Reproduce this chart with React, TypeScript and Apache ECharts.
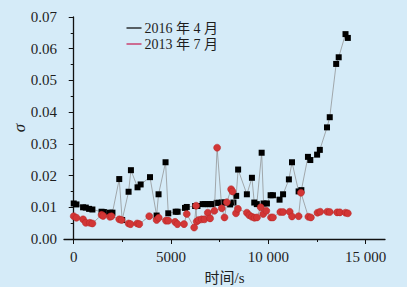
import React, { useEffect, useRef } from "react";
import * as echarts from "echarts";

const xTicks = [0, 5000, 10000, 15000];
const xMinorTicks = [2500, 7500, 12500];

const series2016Name = "2016 年 4 月";
const series2013Name = "2013 年 7 月";

const x2016 = [0, 140, 480, 620, 790, 960, 1430, 1550, 1860, 1990, 2340, 2490, 2820, 2940, 3280, 3440, 3920, 4260, 4360, 4720, 4860, 5240, 5340, 5720, 5810, 6240, 6360, 6630, 6750, 6890, 7010, 7130, 7350, 7470, 7610, 7730, 8040, 8210, 8350, 8450, 8900, 9160, 9280, 9410, 9660, 9760, 9930, 10120, 10240, 10580, 10760, 11060, 11220, 11560, 11700, 12040, 12160, 12510, 12650, 13020, 13160, 13490, 13620, 13970, 14090];
const y2016 = [0.0112, 0.0109, 0.0100, 0.0099, 0.0095, 0.0093, 0.0086, 0.0085, 0.0083, 0.0083, 0.0189, 0.0060, 0.0149, 0.0217, 0.0163, 0.0172, 0.0195, 0.0074, 0.0141, 0.0242, 0.0081, 0.0086, 0.0086, 0.0098, 0.0101, 0.0104, 0.0104, 0.0110, 0.0110, 0.0110, 0.0110, 0.0110, 0.0114, 0.0114, 0.0115, 0.0115, 0.0109, 0.0115, 0.0136, 0.0219, 0.0141, 0.0193, 0.0115, 0.0110, 0.0272, 0.0112, 0.0112, 0.0138, 0.0138, 0.0124, 0.0141, 0.0188, 0.0242, 0.0150, 0.0154, 0.0259, 0.0249, 0.0266, 0.0281, 0.0352, 0.0384, 0.0552, 0.0573, 0.0646, 0.0634];

const x2013 = [0, 140, 480, 620, 830, 960, 1430, 1510, 1860, 1940, 2340, 2460, 2820, 2920, 3260, 3370, 3880, 4260, 4370, 4740, 4860, 5210, 5330, 5670, 5810, 6190, 6290, 6320, 6420, 6580, 6720, 6890, 7010, 7230, 7370, 7610, 7750, 7870, 8090, 8160, 8340, 8440, 8900, 9020, 9160, 9290, 9420, 9610, 9740, 9900, 10140, 10240, 10620, 10760, 11100, 11220, 11560, 11680, 12060, 12190, 12530, 12670, 13030, 13160, 13540, 13680, 13970, 14090];
const y2013 = [0.0072, 0.0067, 0.0062, 0.0051, 0.0051, 0.0049, 0.0076, 0.0073, 0.0070, 0.0072, 0.0062, 0.0060, 0.0049, 0.0047, 0.0049, 0.0047, 0.0072, 0.0060, 0.0067, 0.0058, 0.0058, 0.0054, 0.0047, 0.0047, 0.0079, 0.0036, 0.0105, 0.0055, 0.0060, 0.0062, 0.0062, 0.0083, 0.0065, 0.0089, 0.0288, 0.0097, 0.0068, 0.0116, 0.0157, 0.0150, 0.0081, 0.0095, 0.0083, 0.0075, 0.0070, 0.0067, 0.0068, 0.0100, 0.0079, 0.0089, 0.0068, 0.0068, 0.0085, 0.0085, 0.0086, 0.0071, 0.0072, 0.0146, 0.0070, 0.0068, 0.0083, 0.0086, 0.0086, 0.0085, 0.0084, 0.0084, 0.0083, 0.0081];

const FONT = "Liberation Serif, Times New Roman, Noto Sans CJK SC, serif";
const TEXT = "#1e1e1e";

export default function App() {
  const ref = useRef<HTMLDivElement>(null);
  useEffect(() => {
    if (!ref.current) return;
    const chart = echarts.init(ref.current, undefined, { renderer: "svg" });
    const fmt = (v: number) => {
      if (v >= 10000) {
        const s = String(v);
        return s.slice(0, s.length - 3) + " " + s.slice(s.length - 3);
      }
      return String(v);
    };
    const legendItem = (name: string, color: string, y: number) => ({
      type: "group",
      left: 124,
      top: y - 8,
      children: [
        { type: "line", shape: { x1: 0, y1: 8, x2: 15, y2: 8 }, style: { stroke: color, lineWidth: 1.3 } },
        {
          type: "text",
          x: 18,
          y: 8,
          style: { text: name, fill: TEXT, font: "14px " + FONT, verticalAlign: "middle", align: "left" },
        },
      ],
    });
    chart.setOption({
      animation: false,
      backgroundColor: "#d5ebf8",
      textStyle: { fontFamily: FONT },
      grid: { left: 64, top: 17, right: 22, bottom: 48, containLabel: false, outerBoundsMode: "none" },
      graphic: [legendItem(series2016Name, "#111111", 29), legendItem(series2013Name, "#c8285a", 45)],
      xAxis: [
        {
          type: "value",
          min: -500,
          max: 16000,
          name: "时间/s",
          nameLocation: "middle",
          nameGap: 31,
          nameMoveOverlap: false,
          nameTextStyle: { fontFamily: FONT, fontSize: 15, color: TEXT },
          axisLine: { show: true, onZero: false, lineStyle: { color: "#111", width: 1.3 } },
          axisTick: { show: true, customValues: xTicks, length: 5, lineStyle: { color: "#111", width: 1 } },
          axisLabel: {
            customValues: xTicks,
            formatter: fmt,
            fontFamily: FONT,
            fontSize: 15,
            color: TEXT,
            margin: 10,
          },
          splitLine: { show: false },
        },
        {
          type: "value",
          min: -500,
          max: 16000,
          position: "bottom",
          axisLine: { show: false },
          axisTick: { show: true, customValues: xMinorTicks, length: 3, lineStyle: { color: "#111", width: 1 } },
          axisLabel: { show: false },
          splitLine: { show: false },
        },
      ],
      yAxis: {
        type: "value",
        min: 0,
        max: 0.07,
        interval: 0.01,
        name: "σ",
        nameLocation: "middle",
        nameGap: 36,
        nameRotate: 90,
        nameMoveOverlap: false,
        nameTextStyle: { fontFamily: FONT, fontSize: 17, fontStyle: "italic", color: TEXT },
        axisLine: { show: true, lineStyle: { color: "#111", width: 1.3 } },
        axisTick: { show: true, length: 5, lineStyle: { color: "#111", width: 1 } },
        minorTick: { show: true, splitNumber: 2, length: 3, lineStyle: { color: "#111", width: 1 } },
        axisLabel: {
          formatter: (v: number) => v.toFixed(2),
          fontFamily: FONT,
          fontSize: 15,
          color: TEXT,
          margin: 7,
        },
        splitLine: { show: false },
        minorSplitLine: { show: false },
      },
      series: [
        {
          name: series2016Name,
          type: "line",
          xAxisIndex: 0,
          data: x2016.map((x, i) => [x, y2016[i]]),
          symbol: "rect",
          symbolSize: 6,
          showAllSymbol: true,
          itemStyle: { color: "#000000" },
          lineStyle: { color: "#8a8a8a", width: 0.7 },
          z: 2,
        },
        {
          name: series2013Name,
          type: "line",
          xAxisIndex: 0,
          data: x2013.map((x, i) => [x, y2013[i]]),
          symbol: "circle",
          symbolSize: 7,
          showAllSymbol: true,
          itemStyle: { color: "#d23636", borderColor: "#b52525", borderWidth: 0.5 },
          lineStyle: { color: "#8a8a8a", width: 0.7 },
          z: 3,
        },
      ],
    });
    return () => chart.dispose();
  }, []);
  return <div ref={ref} style={{ width: 407, height: 287, position: "fixed", left: 0, top: 0 }} />;
}
